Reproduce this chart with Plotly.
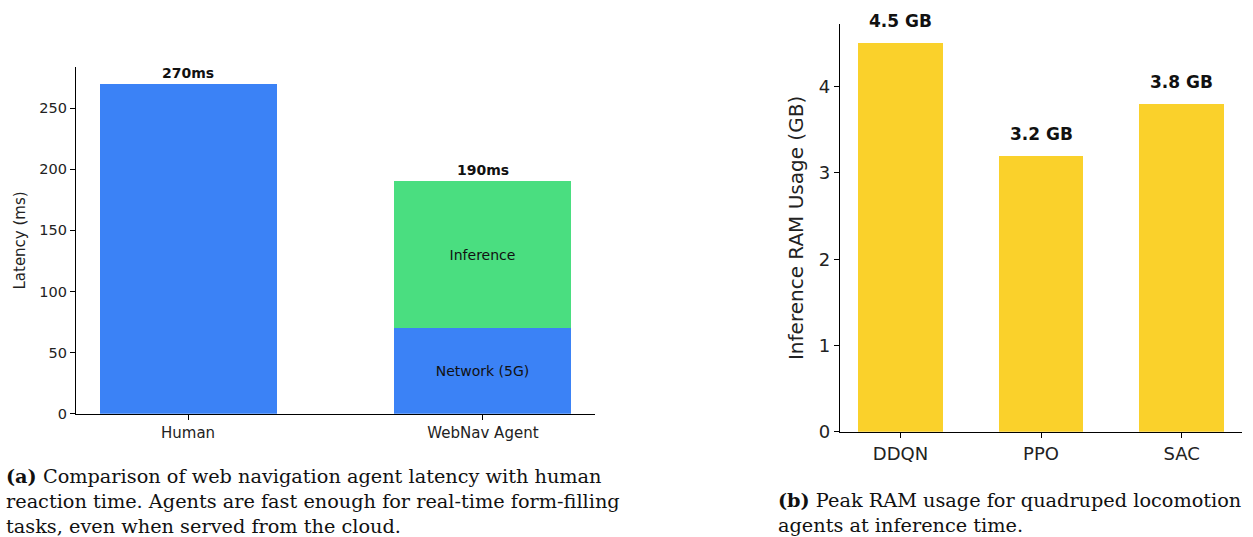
import plotly.graph_objects as go

# Panel (a) data
lat_categories = ["Human", "WebNav Agent"]
human_latency = [270, 0]
network_latency = [0, 70]
inference_latency = [0, 120]
lat_totals = [270, 190]
lat_tick_vals = [0, 50, 100, 150, 200, 250]

# Panel (b) data
ram_categories = ["DDQN", "PPO", "SAC"]
ram_values = [4.5, 3.2, 3.8]
ram_tick_vals = [0, 1, 2, 3, 4]

caption_a = ("<b>(a)</b> Comparison of web navigation agent latency with human<br>"
             "reaction time. Agents are fast enough for real-time form-filling<br>"
             "tasks, even when served from the cloud.")
caption_b = ("<b>(b)</b> Peak RAM usage for quadruped locomotion<br>"
             "agents at inference time.")

W, H = 1253, 537          # target picture size
H_LAYOUT = 548            # rendered height compensation
BLUE = "#3b82f6"
GREEN = "#4ade80"
YELLOW = "#facc15"
FONT = "DejaVu Sans"
SERIF = "DejaVu Serif"


def fy(p):
    return 1 - p / H


fig = go.Figure()

fig.add_trace(go.Bar(x=[0], y=[human_latency[0]], width=0.6, marker=dict(color=BLUE, line_width=0),
                     xaxis="x", yaxis="y", showlegend=False))
fig.add_trace(go.Bar(x=[1], y=[network_latency[1]], width=0.6, marker=dict(color=BLUE, line_width=0),
                     text=["Network (5G)"], textposition="inside", insidetextanchor="middle",
                     textfont=dict(family=FONT, size=14, color="#111"), textangle=0,
                     xaxis="x", yaxis="y", showlegend=False))
fig.add_trace(go.Bar(x=[1], y=[inference_latency[1]], base=[network_latency[1]], width=0.6,
                     marker=dict(color=GREEN, line_width=0),
                     text=["Inference"], textposition="inside", insidetextanchor="middle",
                     textfont=dict(family=FONT, size=14, color="#111"), textangle=0,
                     xaxis="x", yaxis="y", showlegend=False))

fig.add_trace(go.Bar(x=list(range(len(ram_categories))), y=ram_values, width=0.6,
                     marker=dict(color=YELLOW, line_width=0), opacity=0.9,
                     xaxis="x2", yaxis="y2", showlegend=False))

annotations = []
for i, t in enumerate(lat_totals):
    annotations.append(dict(x=i, y=t, xref="x", yref="y", text=f"<b>{t}ms</b>", showarrow=False,
                            yanchor="bottom", yshift=1, font=dict(family=FONT, size=14, color="#111")))
for i, v in enumerate(ram_values):
    annotations.append(dict(x=i, y=v, xref="x2", yref="y2", text=f"<b>{v} GB</b>", showarrow=False,
                            yanchor="bottom", yshift=10, font=dict(family=FONT, size=17, color="#111")))

annotations.append(dict(x=4 / W, y=fy(462), xref="paper", yref="paper",
                        xanchor="left", yanchor="top", align="left", showarrow=False,
                        text=caption_a, font=dict(family=SERIF, size=19.3, color="#111")))
annotations.append(dict(x=776 / W, y=fy(486.5), xref="paper", yref="paper",
                        xanchor="left", yanchor="top", align="left", showarrow=False,
                        text=caption_b, font=dict(family=SERIF, size=19.3, color="#111")))

axis_common = dict(showline=True, linecolor="black", linewidth=1.2, ticks="outside", ticklen=5,
                   tickcolor="black", showgrid=False, zeroline=False)

fig.update_layout(
    width=W, height=H_LAYOUT, autosize=False, margin=dict(l=0, r=0, t=0, b=0),
    paper_bgcolor="white", plot_bgcolor="white",
    barmode="overlay", bargap=0,
    font=dict(family=FONT, color="#222"),
    xaxis=dict(domain=[76 / W, 595 / W], range=[-0.38, 1.38], tickvals=[0, 1], ticktext=lat_categories,
               tickfont=dict(size=15), anchor="y", **axis_common),
    yaxis=dict(domain=[fy(413), fy(67)], range=[0, 283.5], tickvals=lat_tick_vals,
               tickfont=dict(size=14.5), title=dict(text="Latency (ms)", font=dict(size=15), standoff=10),
               anchor="x", **axis_common),
    xaxis2=dict(domain=[840 / W, 1242 / W], range=[-0.43, 2.43], tickvals=[0, 1, 2], ticktext=ram_categories,
                tickfont=dict(size=18), anchor="y2", **axis_common),
    yaxis2=dict(domain=[fy(431), fy(24)], range=[0, 4.725], tickvals=ram_tick_vals,
                tickfont=dict(size=18), title=dict(text="Inference RAM Usage (GB)", font=dict(size=20), standoff=9),
                anchor="x2", **axis_common),
    annotations=annotations,
)

fig.write_html("out.html",
               config={"displayModeBar": False, "responsive": False},
               post_script="document.body.style.margin='0';document.body.style.overflow='hidden';")
